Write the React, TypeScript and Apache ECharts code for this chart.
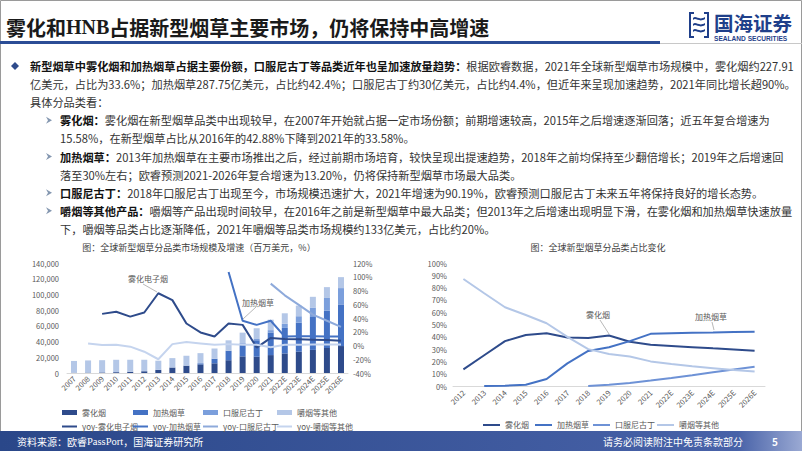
import React, { useEffect, useRef } from 'react';
import * as echarts from 'echarts';

const FONT = '"Noto Sans CJK SC", "Noto Sans", sans-serif';

// ---------- left chart data (market size, USD mn; yoy %) ----------
const barYears = ['2007', '2008', '2009', '2010', '2011', '2012', '2013', '2014', '2015', '2016', '2017', '2018', '2019', '2020', '2021', '2022E', '2023E', '2024E', '2025E', '2026E'];
const sizeVapor = [330, 490, 720, 1070, 1520, 2250, 3960, 6970, 9200, 10920, 12340, 16280, 21170, 20530, 22791, 24900, 27100, 29400, 31800, 34300];
const sizeHeated = [0, 0, 0, 0, 0, 0, 10, 60, 230, 1450, 5800, 12000, 16300, 21200, 28775, 32500, 36900, 41900, 47400, 53000];
const sizeOral = [0, 0, 0, 0, 0, 0, 0, 0, 0, 0, 0, 150, 600, 1577, 3000, 5200, 8270, 12020, 16300, 20770];
const sizeChew = [15000, 15500, 15600, 15750, 15500, 14600, 11700, 11930, 12530, 12900, 13030, 13160, 13300, 13550, 13300, 13400, 13500, 13650, 13800, 13950];

const yoyVapor = [null, null, 46, 49, 42, 48, 76, 66, 32, 19, 13, 32, 30, -3, 11, 9.5, 9, 8.5, 8, 7];
const yoyHeated = [null, null, null, null, null, null, null, null, null, null, null, 107, 36, 30, 36, 13, 13.5, 13.5, 13, 13];
const yoyOral = [null, null, null, null, null, null, null, null, null, null, null, null, null, null, 90, 73, 59, 45, 36, 27];
const yoyChew = [null, 3, 0.7, 1, -1.7, -9, -20, 2, 5, 3, 1, 2, 1, 1, -2.6, 1, 1, 1.5, 1.5, 1.5];

// ---------- right chart data (share %) ----------
const shareYears = ['2012', '2013', '2014', '2015', '2016', '2017', '2018', '2019', '2020', '2021', '2022E', '2023E', '2024E', '2025E', '2026E'];
const shareVapor = [13.5, 25, 36.5, 41.5, 42.9, 39.5, 39, 41, 36, 33.6, 32.6, 31.6, 30.6, 29.7, 28.7];
const shareHeated = [null, 0, 0.3, 1, 5.7, 18.4, 28.5, 31.5, 36.5, 42.4, 42.8, 43.2, 43.5, 43.9, 44.2];
const shareOral = [null, null, null, null, null, null, 0, 1, 2.5, 4.4, 6.5, 8.8, 11.2, 13.5, 15.7];
const shareChew = [87, 75.4, 64, 57.7, 51, 40, 30, 26, 24, 20, 17.8, 16, 14.5, 13, 11.7];

// ---------- texts ----------
const titleRich = '雾化和{s|HNB}占据新型烟草主要市场，仍将保持中高增速';
const bodyLines = [
  '{b|新型烟草中雾化烟和加热烟草占据主要份额，口服尼古丁等品类近年也呈加速放量趋势：}根据欧睿数据，2021年全球新型烟草市场规模中，雾化烟约227.91',
  '亿美元，占比为33.6%；加热烟草287.75亿美元，占比约42.4%；口服尼古丁约30亿美元，占比约4.4%，但近年来呈现加速趋势，2021年同比增长超90%。',
  '具体分品类看：',
  '{b|雾化烟：}雾化烟在新型烟草品类中出现较早，在2007年开始就占据一定市场份额；前期增速较高，2015年之后增速逐渐回落；近五年复合增速为',
  '15.58%，在新型烟草占比从2016年的42.88%下降到2021年的33.58%。',
  '{b|加热烟草：}2013年加热烟草在主要市场推出之后，经过前期市场培育，较快呈现出提速趋势，2018年之前均保持至少翻倍增长；2019年之后增速回',
  '落至30%左右；欧睿预测2021-2026年复合增速为13.20%，仍将保持新型烟草市场最大品类。',
  '{b|口服尼古丁：}2018年口服尼古丁出现至今，市场规模迅速扩大，2021年增速为90.19%，欧睿预测口服尼古丁未来五年将保持良好的增长态势。',
  '{b|嚼烟等其他产品：}嚼烟等产品出现时间较早，在2016年之前是新型烟草中最大品类；但2013年之后增速出现明显下滑，在雾化烟和加热烟草快速放量',
  '下，嚼烟等品类占比逐渐降低，2021年嚼烟等品类市场规模约133亿美元，占比约20%。',
];
const bodyIndent = [30, 30, 30, 60, 60, 60, 60, 60, 60, 60];
const subBulletLines = [3, 5, 7, 8];

const leftTitle = '图：全球新型烟草分品类市场规模及增速（百万美元，%）';
const rightTitle = '图：全球新型烟草分品类占比变化';
const sourceText = '资料来源：欧睿{s|PassPort}，国海证券研究所';
const disclaimer = '请务必阅读附注中免责条款部分';

const C1 = '#2e4b8b';
const C2 = '#4472c4';
const C3 = '#7b9fdc';
const C4 = '#b4c7e7';

echarts.graphic.registerShape(
  'logo',
  echarts.graphic.extendPath(
    'M0 0 L5 0 L5 2 L2 2 L2 24 L5 24 L5 26 L0 26 Z M15 0 L20 0 L20 26 L15 26 L15 24 L18 24 L18 2 L15 2 Z M4 6 C7 3 10 9 16 5 L16 7 C10 11 7 5 4 8 Z M4 12 C7 9 10 15 16 11 L16 13 C10 17 7 11 4 14 Z M4 18 C7 15 10 21 16 17 L16 19 C10 23 7 17 4 20 Z',
    {}
  )
);

function txt(x: number, y: number, text: string, extra: any = {}) {
  return {
    type: 'text',
    x,
    y,
    silent: true,
    style: {
      text,
      fontFamily: FONT,
      fontSize: 11.2,
      fill: '#333333',
      textAlign: 'left',
      textVerticalAlign: 'middle',
      ...extra,
    },
  };
}

function buildGraphics() {
  const els: any[] = [];
  // frame
  els.push({ type: 'rect', shape: { x: 0.5, y: 0.5, width: 801, height: 450 }, style: { fill: 'none', stroke: '#9a9a9a', lineWidth: 1 }, silent: true });
  // title
  els.push(txt(6, 27, titleRich, {
    fontSize: 20, fontWeight: 'bold', fill: '#1a1a1a',
    rich: { s: { fontSize: 20, fontWeight: 'bold', fontFamily: '"Liberation Serif", serif', fill: '#1a1a1a' } },
  }));
  els.push({ type: 'rect', shape: { x: 0, y: 41, width: 660, height: 3 }, style: { fill: '#2b4d96' }, silent: true });
  els.push({ type: 'rect', shape: { x: 660, y: 43, width: 142, height: 1 }, style: { fill: '#c8c8c8' }, silent: true });
  // logo
  els.push({ type: 'logo', x: 689, y: 12, scaleX: 1, scaleY: 1, style: { fill: '#1f3f8a' }, silent: true });
  els.push(txt(714, 22, '国海证券', { fontSize: 19.5, fontWeight: 'bold', fill: '#1f3f8a' }));
  els.push(txt(714, 38.5, 'SEALAND SECURITIES', { fontSize: 6.6, fontWeight: 'bold', fill: '#1f3f8a', fontFamily: '"Liberation Sans", Arial, sans-serif' }));
  // body
  const y0 = 66;
  const dy = 18.1;
  els.push({ type: 'polygon', shape: { points: [[15, y0 - 4], [19, y0], [15, y0 + 4], [11, y0]] }, style: { fill: '#2e4b8b' }, silent: true });
  bodyLines.forEach((line, i) => {
    const y = y0 + dy * i;
    els.push(txt(bodyIndent[i], y, line, {
      fill: '#333333',
      rich: { b: { fontSize: 11.2, fontWeight: 'bold', fontFamily: FONT, fill: '#111111' } },
    }));
  });
  subBulletLines.forEach((i) => {
    const y = y0 + dy * i;
    els.push({ type: 'polygon', shape: { points: [[46, y - 3.5], [52, y], [46, y + 3.5], [48, y]] }, style: { fill: '#8497b0' }, silent: true });
  });
  // chart titles
  els.push(txt(199, 247, leftTitle, { fontSize: 9, textAlign: 'center', fill: '#404040' }));
  els.push(txt(598, 247, rightTitle, { fontSize: 9, textAlign: 'center', fill: '#404040' }));
  // annotations
  els.push(txt(148, 278, '雾化电子烟', { fontSize: 8, textAlign: 'center', fill: '#595959' }));
  els.push({ type: 'line', shape: { x1: 143, y1: 284, x2: 157, y2: 292 }, style: { stroke: '#a6a6a6', lineWidth: 0.8 }, silent: true });
  els.push(txt(258, 302, '加热烟草', { fontSize: 8, textAlign: 'center', fill: '#595959' }));
  els.push({ type: 'line', shape: { x1: 256, y1: 307, x2: 243, y2: 319 }, style: { stroke: '#a6a6a6', lineWidth: 0.8 }, silent: true });
  els.push(txt(598, 314, '雾化烟', { fontSize: 8, textAlign: 'center', fill: '#595959' }));
  els.push({ type: 'line', shape: { x1: 600, y1: 320, x2: 609, y2: 334 }, style: { stroke: '#a6a6a6', lineWidth: 0.8 }, silent: true });
  els.push(txt(711, 316, '加热烟草', { fontSize: 8, textAlign: 'center', fill: '#595959' }));
  els.push({ type: 'line', shape: { x1: 712, y1: 322, x2: 714, y2: 330 }, style: { stroke: '#a6a6a6', lineWidth: 0.8 }, silent: true });
  // footer
  els.push({
    type: 'rect', shape: { x: 0, y: 431, width: 802, height: 20 }, silent: true,
    style: {
      fill: new echarts.graphic.LinearGradient(0, 0, 1, 0, [
        { offset: 0, color: '#2a4789' },
        { offset: 0.92, color: '#4862a8' },
        { offset: 1, color: '#9aa9d3' },
      ]),
    },
  });
  els.push(txt(17, 441, sourceText, {
    fontSize: 10, fill: '#ffffff',
    rich: { s: { fontSize: 10.5, fontFamily: '"Liberation Serif", serif', fill: '#ffffff' } },
  }));
  els.push(txt(603, 441, disclaimer, { fontSize: 10, fill: '#ffffff' }));
  els.push(txt(772, 441, '5', { fontSize: 10, fill: '#ffffff', fontWeight: 'bold' }));
  return els;
}

function legendItem(name: string, left: number, top: number, w: number, h: number) {
  return {
    data: [name],
    left,
    top,
    padding: 0,
    itemGap: 0,
    itemWidth: w,
    itemHeight: h,
    icon: 'rect',
    selectedMode: false,
    textStyle: { fontSize: 8, color: '#595959', fontFamily: FONT },
  };
}

function buildOption(): any {
  const axisLabel = { fontSize: 7.5, color: '#595959', fontFamily: FONT };
  const lineSeries = (name: string, data: any[], color: string, xi: number, yi: number, width = 2) => ({
    type: 'line', name, data, xAxisIndex: xi, yAxisIndex: yi, symbol: 'none', smooth: false,
    lineStyle: { color, width }, itemStyle: { color }, z: 3,
  });
  const barSeries = (name: string, data: number[], color: string) => ({
    type: 'bar', name, data, xAxisIndex: 0, yAxisIndex: 0, stack: 'size', barWidth: 6,
    itemStyle: { color },
  });
  return {
    animation: false,
    backgroundColor: '#ffffff',
    textStyle: { fontFamily: FONT },
    grid: [
      { left: 67, top: 263, width: 281, height: 110 },
      { left: 453, top: 263, width: 312, height: 123 },
    ],
    xAxis: [
      {
        type: 'category', gridIndex: 0, data: barYears,
        axisLine: { onZero: false, lineStyle: { color: '#d9d9d9' } }, axisTick: { show: false },
        axisLabel: { ...axisLabel, rotate: 45, interval: 0, margin: 4 },
      },
      {
        type: 'category', gridIndex: 1, data: shareYears,
        axisLine: { onZero: false, lineStyle: { color: '#d9d9d9' } }, axisTick: { show: false },
        axisLabel: { ...axisLabel, rotate: 45, interval: 0, margin: 5 },
      },
    ],
    yAxis: [
      {
        type: 'value', gridIndex: 0, min: 0, max: 140000, interval: 20000,
        splitLine: { show: false }, axisLine: { show: false }, axisTick: { show: false },
        axisLabel: { ...axisLabel, margin: 8, formatter: (v: number) => v.toLocaleString('en-US') },
      },
      {
        type: 'value', gridIndex: 0, position: 'right', min: -40, max: 120, interval: 20,
        splitLine: { show: false }, axisLine: { show: false }, axisTick: { show: false },
        axisLabel: { ...axisLabel, margin: 5, formatter: '{value}%' },
      },
      {
        type: 'value', gridIndex: 1, min: 0, max: 100, interval: 10,
        splitLine: { show: false }, axisLine: { show: false }, axisTick: { show: false },
        axisLabel: { ...axisLabel, margin: 6, formatter: '{value}%' },
      },
    ],
    legend: [
      legendItem('雾化烟', 62, 408.5, 15, 5),
      legendItem('加热烟草', 133, 408.5, 15, 5),
      legendItem('口服尼古丁', 203, 408.5, 15, 5),
      legendItem('嚼烟等其他', 277, 408.5, 15, 5),
      legendItem('yoy-雾化电子烟', 62, 422.5, 15, 2),
      legendItem('yoy-加热烟草', 133, 422.5, 15, 2),
      legendItem('yoy-口服尼古丁', 203, 422.5, 15, 2),
      legendItem('yoy-嚼烟等其他', 277, 422.5, 15, 2),
      legendItem('雾化烟 ', 483, 421, 17, 2),
      legendItem('加热烟草 ', 535, 421, 17, 2),
      legendItem('口服尼古丁 ', 593, 421, 17, 2),
      legendItem('嚼烟等其他 ', 657, 421, 17, 2),
    ],
    series: [
      barSeries('雾化烟', sizeVapor, C1),
      barSeries('加热烟草', sizeHeated, C2),
      barSeries('口服尼古丁', sizeOral, C3),
      barSeries('嚼烟等其他', sizeChew, C4),
      lineSeries('yoy-雾化电子烟', yoyVapor, C1, 0, 1),
      lineSeries('yoy-加热烟草', yoyHeated, C2, 0, 1),
      lineSeries('yoy-口服尼古丁', yoyOral, '#8eaadb', 0, 1),
      lineSeries('yoy-嚼烟等其他', yoyChew, '#c5d4ee', 0, 1),
      lineSeries('雾化烟 ', shareVapor, C1, 1, 2),
      lineSeries('加热烟草 ', shareHeated, C2, 1, 2),
      lineSeries('口服尼古丁 ', shareOral, '#6e92d6', 1, 2),
      lineSeries('嚼烟等其他 ', shareChew, C4, 1, 2),
    ],
    graphic: { elements: buildGraphics() },
  };
}

export default function App() {
  const ref = useRef<HTMLDivElement>(null);
  useEffect(() => {
    document.body.style.margin = '0';
    const chart = echarts.init(ref.current as HTMLDivElement, null, { renderer: 'svg' });
    chart.setOption(buildOption());
    return () => {
      chart.dispose();
    };
  }, []);
  return (
    <div
      ref={ref}
      style={{ width: 802, height: 451, position: 'absolute', left: 0, top: 0, background: '#ffffff' }}
    />
  );
}
